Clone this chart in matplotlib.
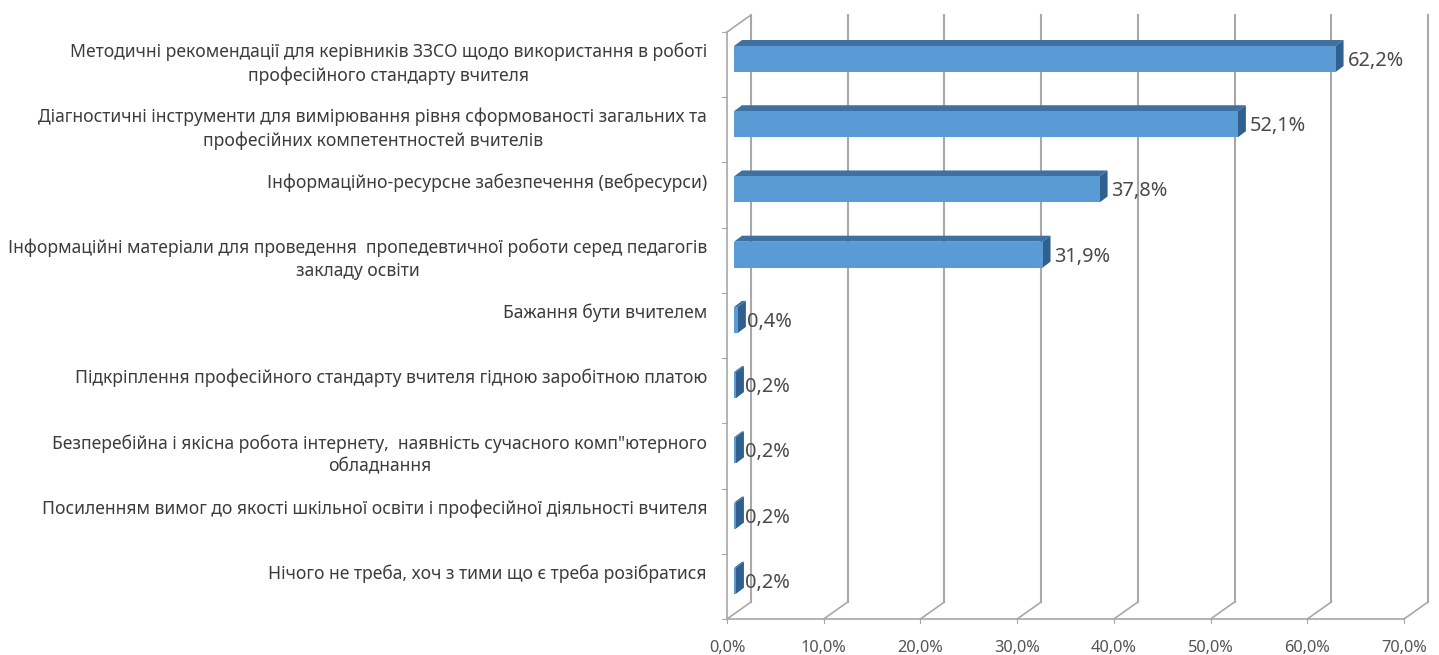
import matplotlib
matplotlib.use("Agg")
import matplotlib.pyplot as plt
from matplotlib.patches import Polygon

categories = [
    "Методичні рекомендації для керівників ЗЗСО щодо використання в роботі\nпрофесійного стандарту вчителя",
    "Діагностичні інструменти для вимірювання рівня сформованості загальних та\nпрофесійних компетентностей вчителів",
    "Інформаційно-ресурсне забезпечення (вебресурси)",
    "Інформаційні матеріали для проведення  пропедевтичної роботи серед педагогів\nзакладу освіти",
    "Бажання бути вчителем",
    "Підкріплення професійного стандарту вчителя гідною заробітною платою",
    "Безперебійна і якісна робота інтернету,  наявність сучасного комп\"ютерного\nобладнання",
    "Посиленням вимог до якості шкільної освіти і професійної діяльності вчителя",
    "Нічого не треба, хоч з тими що є треба розібратися",
]
values = [62.2, 52.1, 37.8, 31.9, 0.4, 0.2, 0.2, 0.2, 0.2]
value_labels = ["62,2%", "52,1%", "37,8%", "31,9%", "0,4%", "0,2%", "0,2%", "0,2%", "0,2%"]
x_ticks = [0, 10, 20, 30, 40, 50, 60, 70]
x_tick_labels = ["0,0%", "10,0%", "20,0%", "30,0%", "40,0%", "50,0%", "60,0%", "70,0%"]

W, H = 1439, 655
L, R, T, B = 727, 1404, 32, 619
fig = plt.figure(figsize=(W / 100, H / 100), dpi=100, facecolor="white")
ax = fig.add_axes([L / W, 1 - B / H, (R - L) / W, (B - T) / H])
ax.set_xlim(0, 70)
ax.set_ylim(len(categories), 0)
ax.axis("off")

px = 70 / (R - L)
py = len(categories) / (B - T)
FONT = "Noto Sans"
GRID = "#a8a8a8"
LW = 1.5


def pt(v, c, dx=0.0, dy=0.0):
    """Data position shifted by a depth offset given in pixels (dy up)."""
    return (v + dx * px, c - dy * py)


def line(a, b, color=GRID, lw=LW):
    ax.plot([a[0], b[0]], [a[1], b[1]], color=color, lw=lw, clip_on=False, zorder=1,
            solid_capstyle="projecting")


n = len(categories)
BDX, BDY = 24, 17
# back wall gridlines and their floor diagonals
for t in x_ticks:
    line(pt(t, 0, BDX, BDY), pt(t, n, BDX, BDY))
    line(pt(t, n), pt(t, n, BDX, BDY), lw=1.2)
line(pt(0, 0), pt(0, 0, BDX, BDY), lw=1.2)
# front axes
line(pt(0, 0), pt(0, n), lw=1.2)
line(pt(0, n), pt(70, n), lw=1.2)
for t in x_ticks:
    line(pt(t, n), pt(t, n, 0, -4), lw=0.8)
for i in range(n + 1):
    line(pt(0, i), pt(0, i, -5, 0), lw=0.8)

# bars
FRONT, TOP, SIDE = "#5b9bd5", "#3f709f", "#2f6090"
OFF_X, DX, DY = 7, 8, 6
BH = 26 * py
for i, v in enumerate(values):
    yc = i + 0.5 - 5.6 * py
    y0, y1 = yc - BH / 2, yc + BH / 2
    ax.add_patch(Polygon([pt(0, y0, OFF_X), pt(0, y0, OFF_X + DX, DY),
                          pt(v, y0, OFF_X + DX, DY), pt(v, y0, OFF_X)],
                         fc=TOP, ec="none", clip_on=False, zorder=3))
    ax.add_patch(Polygon([pt(v, y0, OFF_X), pt(v, y0, OFF_X + DX, DY),
                          pt(v, y1, OFF_X + DX, DY), pt(v, y1, OFF_X)],
                         fc=SIDE, ec="none", clip_on=False, zorder=3))
    ax.add_patch(Polygon([pt(0, y0, OFF_X), pt(v, y0, OFF_X),
                          pt(v, y1, OFF_X), pt(0, y1, OFF_X)],
                         fc=FRONT, ec="none", clip_on=False, zorder=4))
    pad = 4 if v > 1 else 1
    x, y = pt(v, yc, OFF_X + DX + pad, -2)
    ax.text(x, y, value_labels[i], fontsize=14.4, color="#4a4a4a", family=FONT,
            ha="left", va="center", zorder=5, clip_on=False)
    shift = 1 if "\n" in categories[i] else 12.5
    x, y = pt(0, i + 0.5, -20, shift)
    ax.text(x, y, categories[i], fontsize=12.6, color="#3c3c3c", family=FONT,
            ha="right", va="center", ma="center", linespacing=1.37, zorder=5, clip_on=False)

for t, s in zip(x_ticks, x_tick_labels):
    x, y = pt(t, n, 0, -29)
    ax.text(x, y, s, fontsize=11.8, color="#555555", family=FONT,
            ha="center", va="center", clip_on=False)

fig.savefig("out.png", dpi=100, facecolor="white")
